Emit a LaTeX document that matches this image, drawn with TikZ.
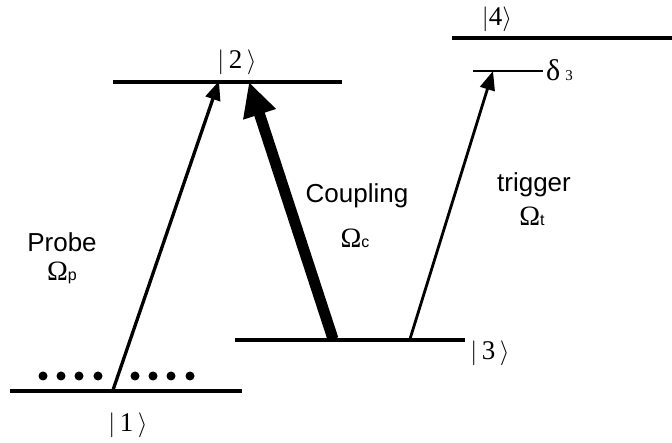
\documentclass[tikz,border=0pt]{standalone}
\usepackage{fontspec}
\setmainfont{Liberation Serif}
\newfontfamily\sansf{Liberation Sans}
\usetikzlibrary{arrows.meta}
\tikzset{
  level/.style={line width=3.5pt},
  thinlevel/.style={line width=1.2pt},
  ket/.style={font=\fontsize{27}{29}\selectfont, inner sep=0pt},
  lab/.style={font=\sansf\fontsize{26}{28}\selectfont, inner sep=0pt},
  om/.style={font=\fontsize{28}{30}\selectfont, inner sep=0pt},
  sub/.style={},
  trans/.style={line width=3.3pt, -{Triangle[length=19pt,width=15pt]}},
  strong/.style={line width=11pt, -{Triangle[length=34pt,width=32pt]}},
  dot/.style={circle, fill=black, inner sep=0pt, minimum size=9pt}
}
\begin{document}
\begin{tikzpicture}[x=1pt,y=-1pt]
\useasboundingbox (0,0) rectangle (672,443);
% levels
\draw[level] (10,391) -- (242,391);
\draw[level] (113,82) -- (342,82);
\draw[level] (235,340) -- (465,340);
\draw[level] (452,38) -- (672,38);
\draw[thinlevel] (473,71) -- (543,71);
% kets
\node[ket] (k1) at (128,425) {$|$\,1\,$\rangle$};
\node[ket] (k2) at (237,62) {$|$\,2\,$\rangle$};
\node[ket] (k3) at (490,353) {$|$\,3\,$\rangle$};
\node[ket] (k4) at (497,19) {$|$4$\rangle$};
\node[ket, anchor=west, font=\fontsize{30}{32}\selectfont] (d3) at (546,70) {δ\,{\fontsize{15}{17}\selectfont 3}};
% dots
\foreach \x [count=\i] in {43,61,79,98,135,153,171,190}
  \node[dot] (dt\i) at (\x,376) {};
% arrow endpoints
\coordinate (p0) at (113,390);
\coordinate (p1) at (219,81);
\coordinate (c0) at (333,339);
\coordinate (c1) at (249,82);
\coordinate (t0) at (410,339);
\coordinate (t1) at (493,71);
\draw[trans] (p0) -- (p1);
\draw[strong] (c0) -- (c1);
\draw[trans, line width=2.8pt] (t0) -- (t1);
% labels
\node[lab] (probe) at (62,242) {Probe};
\node[om] (omp) at (62,273) {Ω{\sansf\fontsize{16}{18}\selectfont p}};
\node[lab] (coup) at (357,196) {Coupling};
\node[om] (omc) at (355,238) {Ω{\sansf\fontsize{16}{18}\selectfont c}};
\node[lab] (trig) at (534,185) {trigger};
\node[om] (omt) at (532,216) {Ω{\sansf\fontsize{16}{18}\selectfont t}};
\end{tikzpicture}
\end{document}
